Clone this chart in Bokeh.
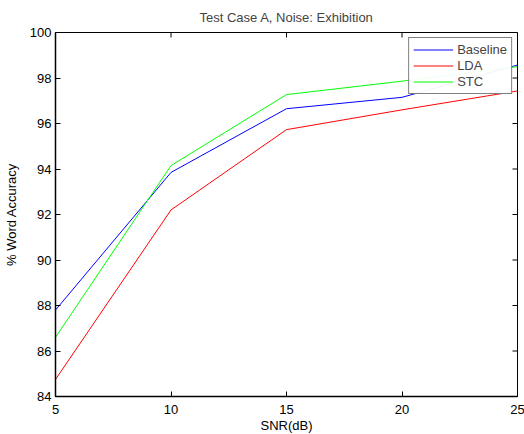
import math
from bokeh.plotting import figure
from bokeh.models import Range1d, Legend, LegendItem, FixedTicker
from bokeh.embed import file_html
from bokeh.resources import INLINE

snr = [5, 10, 15, 20, 25]
baseline = [87.8, 93.85, 96.65, 97.15, 98.57]
lda = [84.75, 92.2, 95.73, 96.6, 97.43]
stc = [86.6, 94.15, 97.27, 97.86, 98.5]
x_ticks = [5, 10, 15, 20, 25]
y_ticks = [84, 86, 88, 90, 92, 94, 96, 98, 100]

FONT = "Liberation Sans"
X_MIN, X_MAX = 5, 25
Y_MIN, Y_MAX = 84, 100

p = figure(width=527, height=435, output_backend="svg", toolbar_location=None,
           x_range=Range1d(X_MIN, X_MAX), y_range=Range1d(Y_MIN, Y_MAX),
           title="Test Case A, Noise: Exhibition",
           min_border_left=49, min_border_right=10, min_border_top=24, min_border_bottom=10)

p.title.align = "center"
p.title.text_font = FONT
p.title.text_font_size = "13px"
p.title.text_font_style = "normal"
p.title.offset = 0
p.title.standoff = 15

p.xgrid.visible = False
p.ygrid.visible = False
p.outline_line_color = "black"
p.outline_line_width = 1

for ax in (p.xaxis[0], p.yaxis[0]):
    ax.major_tick_in = 5
    ax.major_tick_out = 0
    ax.minor_tick_in = 0
    ax.minor_tick_out = 0
    ax.axis_line_color = "black"
    ax.axis_line_width = 1.5
    ax.major_label_text_font = FONT
    ax.major_label_text_font_size = "13px"
    ax.major_label_text_color = "black"
    ax.axis_label_text_font = FONT
    ax.axis_label_text_font_size = "13px"
    ax.axis_label_text_font_style = "normal"
    ax.axis_label_text_color = "black"

p.xaxis[0].ticker = FixedTicker(ticks=x_ticks)
p.yaxis[0].ticker = FixedTicker(ticks=y_ticks)
p.xaxis[0].axis_label = "SNR(dB)"
p.yaxis[0].axis_label = "% Word Accuracy"
p.xaxis[0].major_label_standoff = 8
p.xaxis[0].axis_label_standoff = 1
p.yaxis[0].major_label_standoff = 4
p.yaxis[0].axis_label_standoff = 8

# inward ticks on the top and right edges (box style), from the tick arrays
p.ray(x=[X_MAX] * len(y_ticks), y=y_ticks, length=5, length_units="screen",
      angle=math.pi, line_color="black", line_width=1)
p.ray(x=x_ticks, y=[Y_MAX] * len(x_ticks), length=5, length_units="screen",
      angle=-math.pi / 2, line_color="black", line_width=1)

r1 = p.line(snr, baseline, line_color="#0000ff", line_width=1)
r2 = p.line(snr, lda, line_color="#ff0000", line_width=1)
r3 = p.line(snr, stc, line_color="#00ff00", line_width=1)

legend = Legend(items=[LegendItem(label="Baseline", renderers=[r1]),
                       LegendItem(label="LDA", renderers=[r2]),
                       LegendItem(label="STC", renderers=[r3])],
                location="top_right")
legend.border_line_color = "black"
legend.border_line_width = 1
legend.label_text_font = FONT
legend.label_text_font_size = "13px"
legend.glyph_width = 40
legend.glyph_height = 15
legend.label_height = 15
legend.spacing = 1
legend.padding = 4
legend.margin = 5
legend.label_standoff = 4
p.add_layout(legend, "center")

open("out.html", "w").write(file_html(p, INLINE))
